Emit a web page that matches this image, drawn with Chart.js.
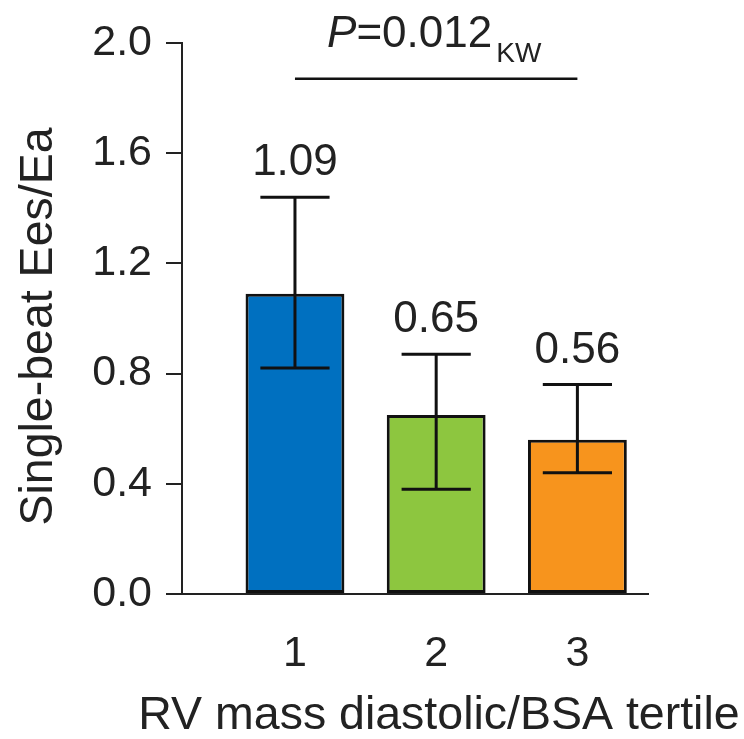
<!DOCTYPE html>
<html>
<head>
<meta charset="utf-8">
<script src="https://cdn.jsdelivr.net/npm/chart.js@4.4.1/dist/chart.umd.min.js"></script>
<style>
  html, body { margin: 0; padding: 0; background: #ffffff; }
  #wrap { width: 744px; height: 739px; position: relative; }
</style>
</head>
<body>
<div id="wrap"><canvas id="c"></canvas></div>
<script>
// ---- data ----
const categories = ['1', '2', '3'];
const means = [1.09, 0.65, 0.56];
const errLow = [0.82, 0.38, 0.44];
const errHigh = [1.44, 0.87, 0.76];
const valueLabels = ['1.09', '0.65', '0.56'];
const yTicks = [0.0, 0.4, 0.8, 1.2, 1.6, 2.0];
const barColors = ['#0070c0', '#8dc63f', '#f7941d'];
const bracketFrom = 1, bracketTo = 3, bracketY = 1.87;
const pMain = '=0.012', pLetter = 'P', pSub = 'KW';
const xTitle = 'RV mass diastolic/BSA tertile';
const yTitle = 'Single-beat Ees/Ea';

const FONT = '"Liberation Sans", Arial, Helvetica, sans-serif';
const INK = '#222222';

const points = categories.map((c, i) => ({ x: i + 1, y: means[i] }));

const overlay = {
  id: 'overlay',
  afterDatasetsDraw(chart) {
    const ctx = chart.ctx;
    const xs = chart.scales.x, ys = chart.scales.y;
    const meta = chart.getDatasetMeta(0);
    ctx.save();
    // error bars
    ctx.strokeStyle = '#111111';
    ctx.lineWidth = 3;
    meta.data.forEach((bar, i) => {
      const x = bar.x;
      const cap = bar.width * 0.7 / 2;
      const yh = ys.getPixelForValue(errHigh[i]);
      const yl = ys.getPixelForValue(errLow[i]);
      ctx.beginPath();
      ctx.moveTo(x, yh); ctx.lineTo(x, yl);
      ctx.moveTo(x - cap, yh); ctx.lineTo(x + cap, yh);
      ctx.moveTo(x - cap, yl); ctx.lineTo(x + cap, yl);
      ctx.stroke();
      // value labels
      ctx.fillStyle = INK;
      ctx.font = '44px ' + FONT;
      ctx.textAlign = 'center';
      ctx.textBaseline = 'alphabetic';
      ctx.fillText(valueLabels[i], x, yh - 22);
    });
    // bracket
    const bx1 = xs.getPixelForValue(bracketFrom);
    const bx2 = xs.getPixelForValue(bracketTo);
    const by = ys.getPixelForValue(bracketY);
    ctx.lineWidth = 2.5;
    ctx.beginPath();
    ctx.moveTo(bx1, by); ctx.lineTo(bx2, by);
    ctx.stroke();
    // P value text
    ctx.fillStyle = INK;
    ctx.textAlign = 'left';
    ctx.textBaseline = 'alphabetic';
    ctx.font = 'italic 44px ' + FONT;
    const wP = ctx.measureText(pLetter).width;
    ctx.font = '44px ' + FONT;
    const wM = ctx.measureText(pMain).width;
    ctx.font = '28px ' + FONT;
    const wS = ctx.measureText(pSub).width;
    const total = wP + wM + 4 + wS;
    let tx = (bx1 + bx2) / 2 - total / 2 - 2;
    const ty = by - 32;
    ctx.font = 'italic 44px ' + FONT;
    ctx.fillText(pLetter, tx, ty); tx += wP;
    ctx.font = '44px ' + FONT;
    ctx.fillText(pMain, tx, ty); tx += wM + 4;
    ctx.font = '28px ' + FONT;
    ctx.fillText(pSub, tx, ty + 15);
    ctx.restore();
  },
  afterDraw(chart) {
    const ctx = chart.ctx;
    const area = chart.chartArea;
    ctx.save();
    ctx.fillStyle = INK;
    ctx.font = '46.5px ' + FONT;
    ctx.textBaseline = 'alphabetic';
    ctx.textAlign = 'center';
    ctx.fillText(xTitle, (area.left + area.right) / 2 + 24, 729);
    ctx.translate(52, (area.top + area.bottom) / 2 + 8);
    ctx.rotate(-Math.PI / 2);
    ctx.fillText(yTitle, 0, 0);
    ctx.restore();
  }
};

new Chart(document.getElementById('c'), {
  type: 'bar',
  data: {
    datasets: [{
      data: points,
      backgroundColor: barColors,
      borderColor: '#111111',
      borderWidth: 3,
      borderSkipped: false,
      barPercentage: 0.7,
      categoryPercentage: 1.0
    }]
  },
  options: {
    responsive: true,
    maintainAspectRatio: false,
    animation: false,
    layout: { padding: { left: 0, right: 96, top: 43, bottom: 0 } },
    plugins: { legend: { display: false }, tooltip: { enabled: false } },
    scales: {
      x: {
        type: 'linear',
        offset: false,
        min: 0.2,
        max: 3.5,
        afterBuildTicks: (s) => { s.ticks = categories.map((c, i) => ({ value: i + 1 })); },
        afterFit: (s) => { s.height = 145; },
        grid: { display: false, offset: false },
        border: { display: true, color: INK, width: 2 },
        ticks: {
          autoSkip: false,
          maxRotation: 0,
          padding: 26,
          color: INK,
          font: { family: FONT, size: 43 },
          callback: (v) => categories[Math.round(v) - 1]
        }
      },
      y: {
        min: 0,
        max: 2.0,
        afterBuildTicks: (s) => { s.ticks = yTicks.map(v => ({ value: v })); },
        afterFit: (s) => { s.width = 182; },
        grid: { display: true, drawOnChartArea: false, drawTicks: true, tickLength: 16, lineWidth: 2, color: INK },
        border: { display: true, color: INK, width: 2 },
        ticks: {
          padding: 14,
          color: INK,
          font: { family: FONT, size: 43 },
          callback: (v) => Number(v).toFixed(1)
        }
      }
    }
  },
  plugins: [overlay]
});
</script>
</body>
</html>
